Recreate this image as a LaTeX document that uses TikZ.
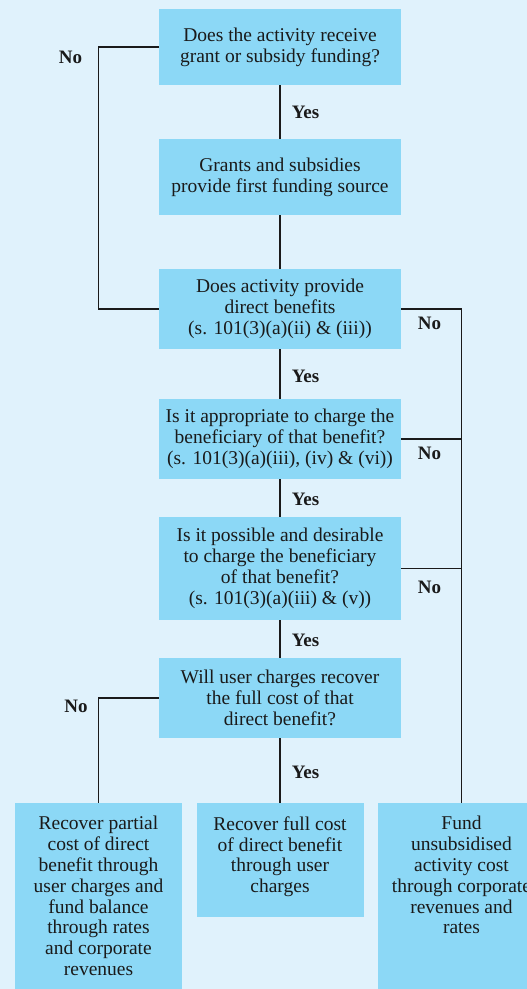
\documentclass[tikz,border=0pt]{standalone}
\usepackage{fontspec}
\setmainfont{Liberation Serif}
\usetikzlibrary{positioning}
\definecolor{pagebg}{RGB}{224,242,252}
\definecolor{boxblue}{RGB}{140,216,246}
\definecolor{inkdark}{RGB}{26,26,26}

\begin{document}
\begin{tikzpicture}[x=1pt, y=-1pt, font=\fontsize{19.5}{20.8}\selectfont,
  qbox/.style={fill=boxblue, text=inkdark, align=center, inner sep=0pt},
  ans/.style={font=\fontsize{19}{20}\selectfont\bfseries, text=inkdark},
  link/.style={draw=inkdark, line width=1.6pt}]
\fill[pagebg] (0,0) rectangle (527,989);
\useasboundingbox (0,0) rectangle (527,989);
% question boxes down the middle
\foreach \n/\y/\h/\t in {%
  q1/47/76/{Does the activity receive\\grant or subsidy funding?},
  q2/177/76/{Grants and subsidies\\provide first funding source},
  q3/309/80/{Does activity provide\\direct benefits\\(s. 101(3)(a)(ii) \& (iii))},
  q4/439/80/{Is it appropriate to charge the\\beneficiary of that benefit?\\(s. 101(3)(a)(iii), (iv) \& (vi))},
  q5/568.5/103/{Is it possible and desirable\\to charge the beneficiary\\of that benefit?\\(s. 101(3)(a)(iii) \& (v))},
  q6/698/80/{Will user charges recover\\the full cost of that\\direct benefit?}} {
  \node[qbox, minimum width=242pt, minimum height=\h pt] (\n) at (280,\y) {\t};
}
% outcome boxes
\node[qbox, minimum width=167pt, minimum height=186pt] (partial) at (98.5,896)
  {Recover partial\\cost of direct\\benefit through\\user charges and\\fund balance\\through rates\\and corporate\\revenues};
\node[qbox, minimum width=167pt, minimum height=114pt] (fullcost) at (280,860)
  {Recover full cost\\of direct benefit\\through user\\charges\\[-10pt]};
\node[qbox, minimum width=167pt, minimum height=186pt] (fund) at (461.5,896)
  {Fund\\unsubsidised\\activity cost\\through corporate\\revenues and\\rates\\~\\~};

% connectors
\draw[link] (q1) -- (q2);
\draw[link] (q2) -- (q3);
\draw[link] (q3) -- (q4);
\draw[link] (q4) -- (q5);
\draw[link] (q5) -- (q6);
\draw[link] (q6) -- (fullcost);
\draw[link] (q1.west) -| (partial.north |- q3.west) -- (q3.west);
\draw[link] (q3.east) -| (fund.north);
\draw[link] (q4.east) -- (fund.north |- q4.east);
\draw[link] (q5.east) -- (fund.north |- q5.east);
\draw[link] (q6.west) -| (partial.north);

% answers
\node[ans] (no1) at (70.5,57) {No};
\node[ans] (yes1) at (305.5,112) {Yes};
\node[ans] (yes2) at (305.5,376) {Yes};
\node[ans] (yes3) at (305.5,499) {Yes};
\node[ans] (yes4) at (305.5,640) {Yes};
\node[ans] (yes5) at (305.5,772) {Yes};
\node[ans] (no2) at (429.5,323) {No};
\node[ans] (no3) at (429.5,453) {No};
\node[ans] (no4) at (429.5,587) {No};
\node[ans] (no5) at (76,706) {No};
\end{tikzpicture}
\end{document}
